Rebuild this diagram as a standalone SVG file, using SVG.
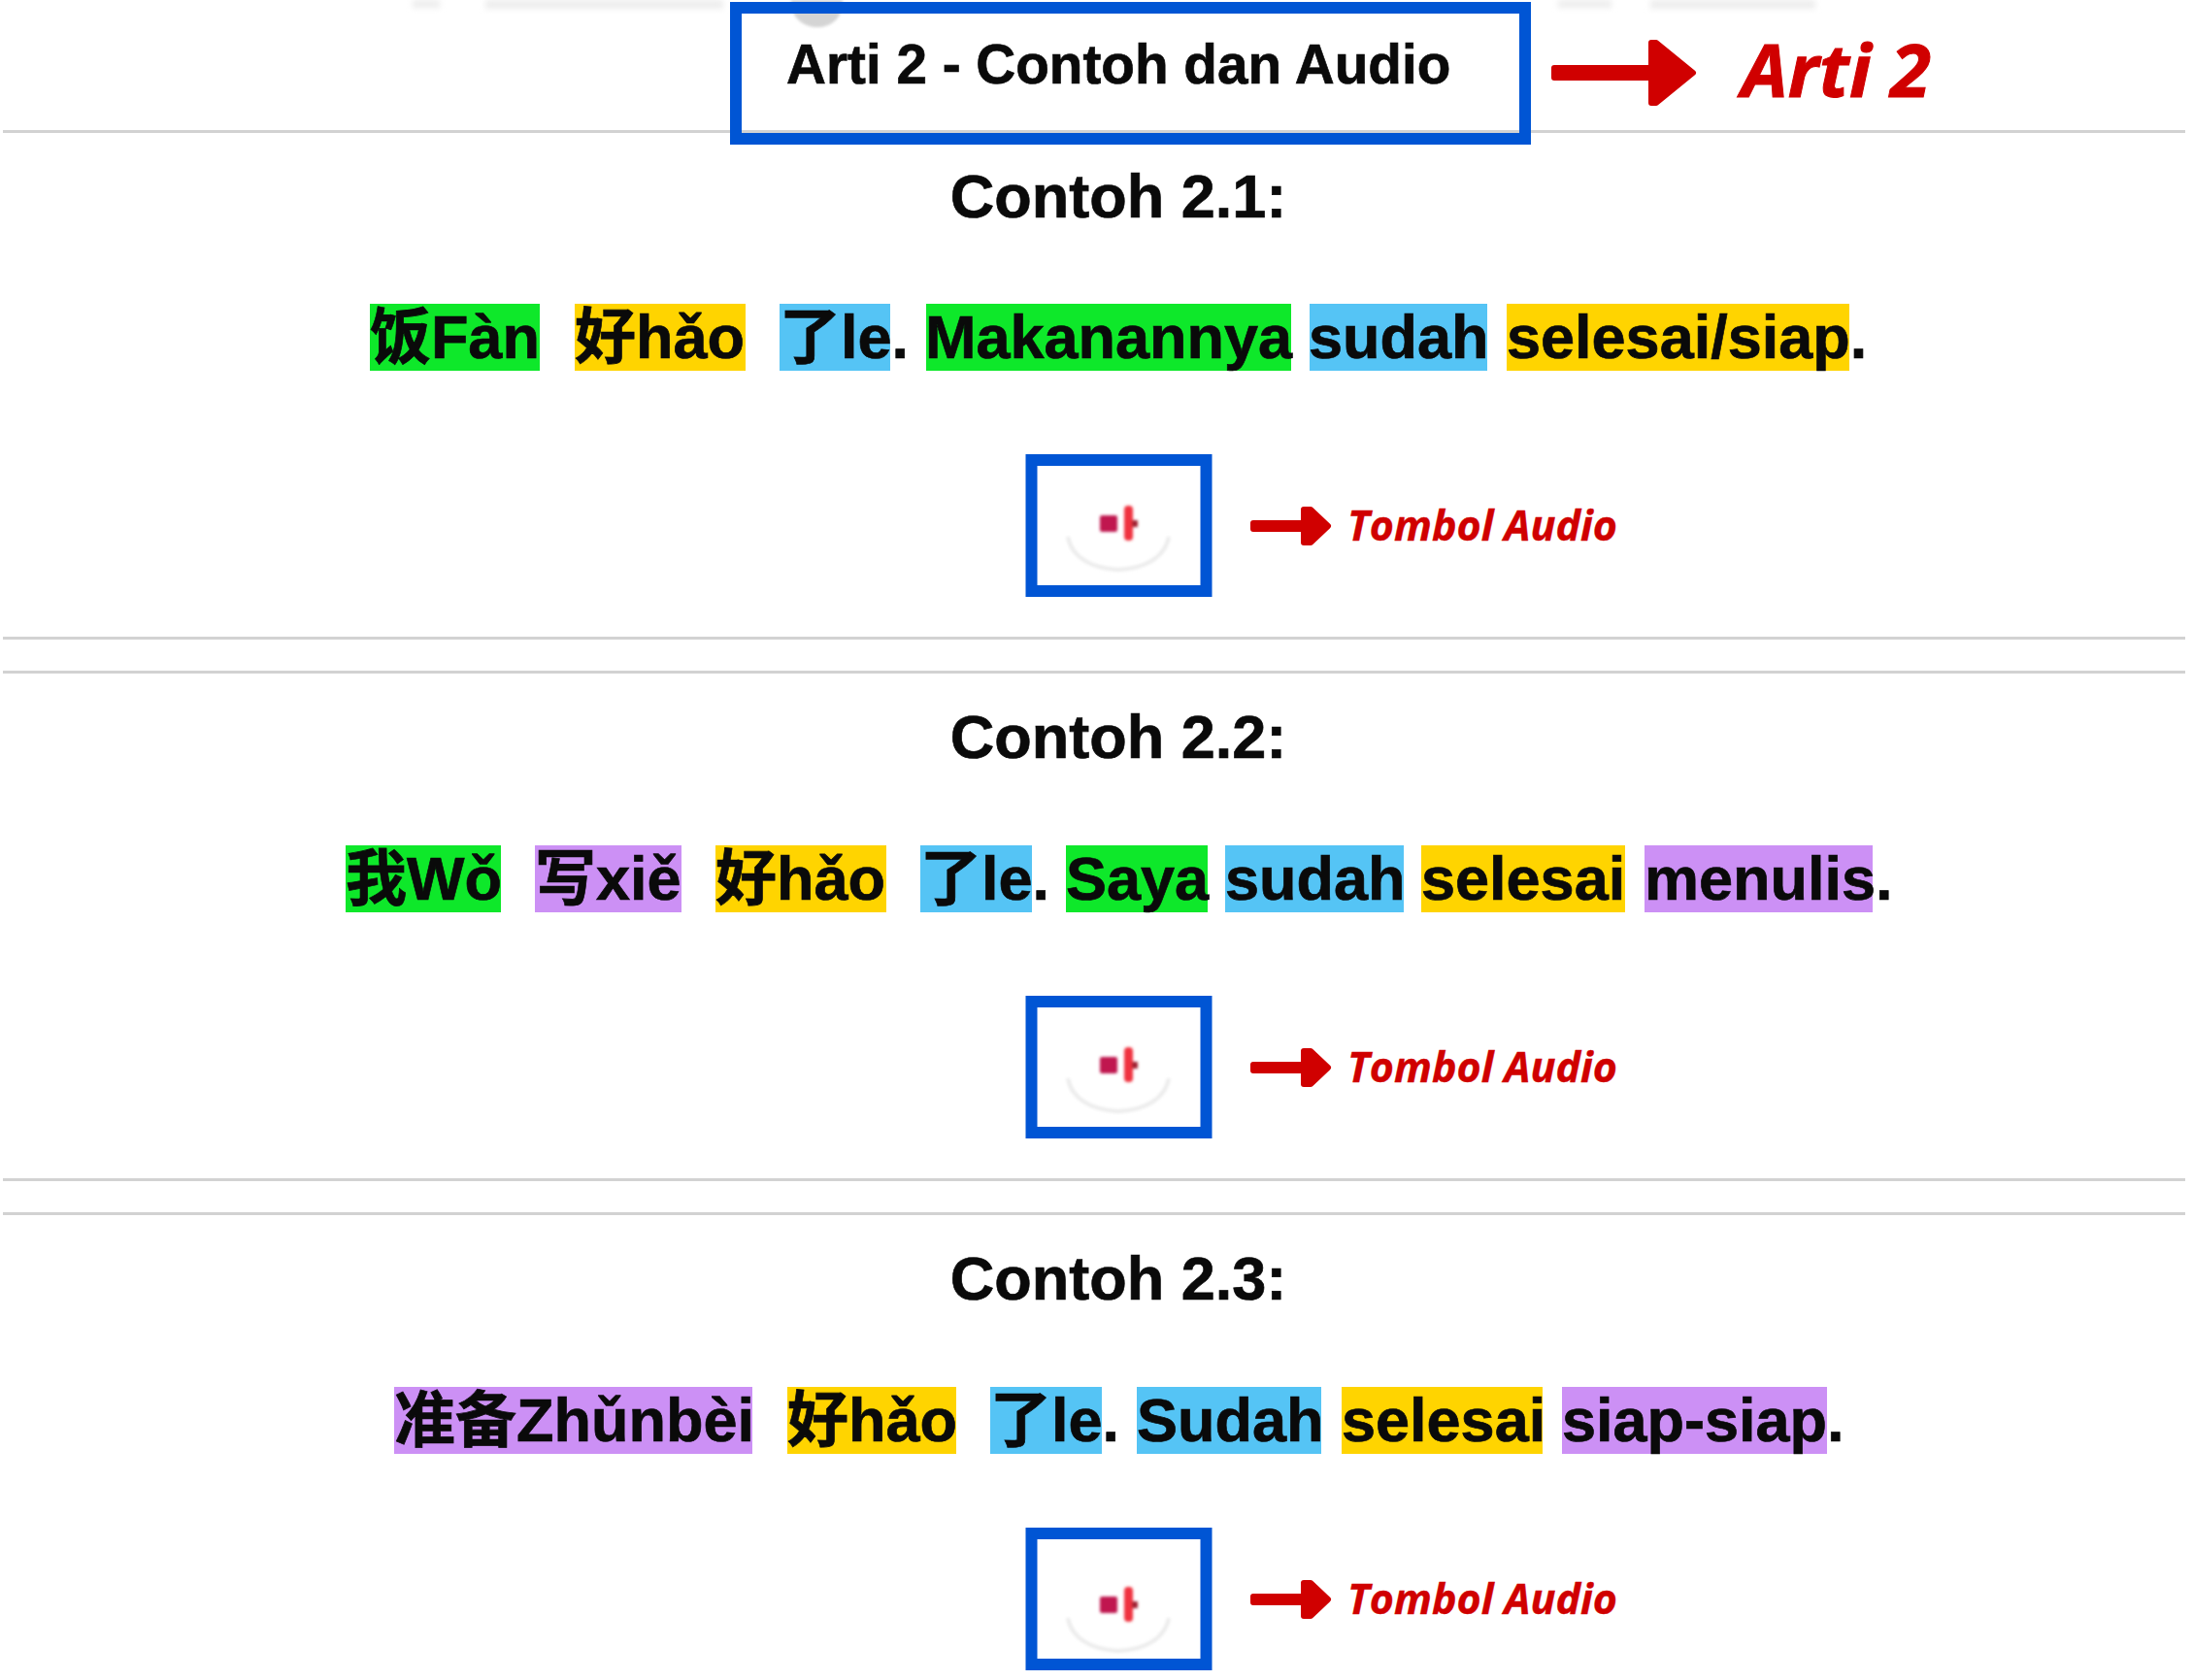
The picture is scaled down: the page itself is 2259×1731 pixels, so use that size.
<svg xmlns="http://www.w3.org/2000/svg" width="2259" height="1731" viewBox="0 0 2259 1731">
<style>
text{font-family:"Liberation Sans","Noto Sans CJK SC",Arial,sans-serif;font-weight:700;fill:#0a0a0a;stroke:#0a0a0a;stroke-width:.7px}
.h{font-size:63px;text-anchor:middle}
.t{font-size:63px}
.r{font-family:"Open Sans","Noto Sans",sans-serif;font-style:italic;fill:#d00000;stroke:#d00000;stroke-width:.4px}
.s{font-size:43px}
.div{stroke:#d2d2d2;stroke-width:3;fill:none}
.bx{fill:none;stroke:#0055d4;stroke-width:12}
.g{fill:#0ee82a}.y{fill:#ffd400}.b{fill:#55c4f5}.p{fill:#cc90f5}
.arrow{fill:#d00000;stroke:#d00000;stroke-width:6;stroke-linejoin:round}
</style>
<defs>
<filter id="soft" x="-20%" y="-20%" width="140%" height="140%"><feGaussianBlur stdDeviation="1.6"/></filter>
<filter id="soft2" x="-20%" y="-50%" width="140%" height="200%"><feGaussianBlur stdDeviation="3"/></filter>
<g id="btn">
<path d="M-52 14C-48 36 -26 47 0 48C26 47 48 36 52 14" fill="none" stroke="#ebebeb" stroke-width="4" filter="url(#soft)"/>
<g filter="url(#soft)">
<rect x="-19" y="-8" width="18" height="17" rx="2" fill="#c0184f"/>
<rect x="6" y="-18" width="9" height="36" rx="4" fill="#f0303f"/>
<rect x="14" y="-3" width="6" height="7" fill="#a02030"/>
</g>
</g>
</defs>
<rect width="2259" height="1731" fill="#fff"/>
<g id="page-remnants" filter="url(#soft2)" fill="#ececec">
<rect x="425" y="0" width="28" height="8"/><rect x="500" y="0" width="245" height="9"/>
<rect x="1605" y="0" width="55" height="8"/><rect x="1700" y="0" width="170" height="9"/>
</g>
<g id="dividers">
<path class="div" d="M3 135.500H2251M3 657.500H2251M3 692.500H2251M3 1215.500H2251M3 1250.500H2251"/>
</g>
<g id="node-title">
<path d="M815 0H868V6C866 20 855 28 842 28C829 28 817 20 815 6Z" fill="#d4d4d4" filter="url(#soft)"/>
<rect class="bx" x="758" y="8" width="813" height="135"/>
<text x="810" y="86" style="font-size:56.700px">Arti 2 - Contoh dan Audio</text>
</g>
<g id="connectors">
<path class="arrow" d="M1601 70H1701V44L1706 44L1744 75L1706 106L1701 106V80H1601Z"/>
<path class="arrow" d="M1291 539H1343V525L1350 525L1368 542L1350 559L1343 559V545H1291Z"/>
<path class="arrow" d="M1291 1097H1343V1083L1350 1083L1368 1100L1350 1117L1343 1117V1103H1291Z"/>
<path class="arrow" d="M1291 1645H1343V1631L1350 1631L1368 1648L1350 1665L1343 1665V1651H1291Z"/>
</g>
<g id="label-arti2"><text class="r" x="1794" y="100" style="font-size:76px;stroke-width:1px">Arti 2</text></g>
<g id="example-1">
<text class="h" x="1152" y="224">Contoh 2.1:</text>
<rect class="g" x="381" y="313" width="175" height="69"/><rect class="y" x="592" y="313" width="176" height="69"/><rect class="b" x="803" y="313" width="114" height="69"/><rect class="g" x="954" y="313" width="376" height="69"/><rect class="b" x="1349" y="313" width="183" height="69"/><rect class="y" x="1552" y="313" width="353" height="69"/>
<text class="t" y="369"><tspan x="381">饭Fàn</tspan><tspan x="592">好hǎo</tspan><tspan x="803">了le.</tspan><tspan x="953">Makanannya</tspan><tspan x="1348">sudah</tspan><tspan x="1552">selesai/siap.</tspan></text>
</g>
<g id="audio-1">
<rect class="bx" x="1062.500" y="474" width="180" height="135"/>
<use href="#btn" x="1152" y="539"/>
<text class="r s" x="1388" y="557">Tombol Audio</text>
</g>
<g id="example-2">
<text class="h" x="1152" y="781">Contoh 2.2:</text>
<rect class="g" x="356" y="871" width="160" height="69"/><rect class="p" x="551" y="871" width="151" height="69"/><rect class="y" x="737" y="871" width="176" height="69"/><rect class="b" x="948" y="871" width="115" height="69"/><rect class="g" x="1098" y="871" width="146" height="69"/><rect class="b" x="1262" y="871" width="184" height="69"/><rect class="y" x="1464" y="871" width="210" height="69"/><rect class="p" x="1694" y="871" width="235" height="69"/>
<text class="t" y="927"><tspan x="356">我Wǒ</tspan><tspan x="551">写xiě</tspan><tspan x="737">好hǎo</tspan><tspan x="948">了le.</tspan><tspan x="1098">Saya</tspan><tspan x="1262">sudah</tspan><tspan x="1464">selesai</tspan><tspan x="1694">menulis.</tspan></text>
</g>
<g id="audio-2">
<rect class="bx" x="1062.500" y="1032" width="180" height="135"/>
<use href="#btn" x="1152" y="1097"/>
<text class="r s" x="1388" y="1115">Tombol Audio</text>
</g>
<g id="example-3">
<text class="h" x="1152" y="1339">Contoh 2.3:</text>
<rect class="p" x="406" y="1429" width="369" height="69"/><rect class="y" x="811" y="1429" width="174" height="69"/><rect class="b" x="1020" y="1429" width="115" height="69"/><rect class="b" x="1171" y="1429" width="190" height="69"/><rect class="y" x="1382" y="1429" width="207" height="69"/><rect class="p" x="1609" y="1429" width="273" height="69"/>
<text class="t" y="1485"><tspan x="406">准备Zhǔnbèi</tspan><tspan x="811">好hǎo</tspan><tspan x="1020">了le.</tspan><tspan x="1171">Sudah</tspan><tspan x="1382">selesai</tspan><tspan x="1609">siap-siap.</tspan></text>
</g>
<g id="audio-3">
<rect class="bx" x="1062.500" y="1580" width="180" height="135"/>
<use href="#btn" x="1152" y="1653"/>
<text class="r s" x="1388" y="1663">Tombol Audio</text>
</g>
</svg>
